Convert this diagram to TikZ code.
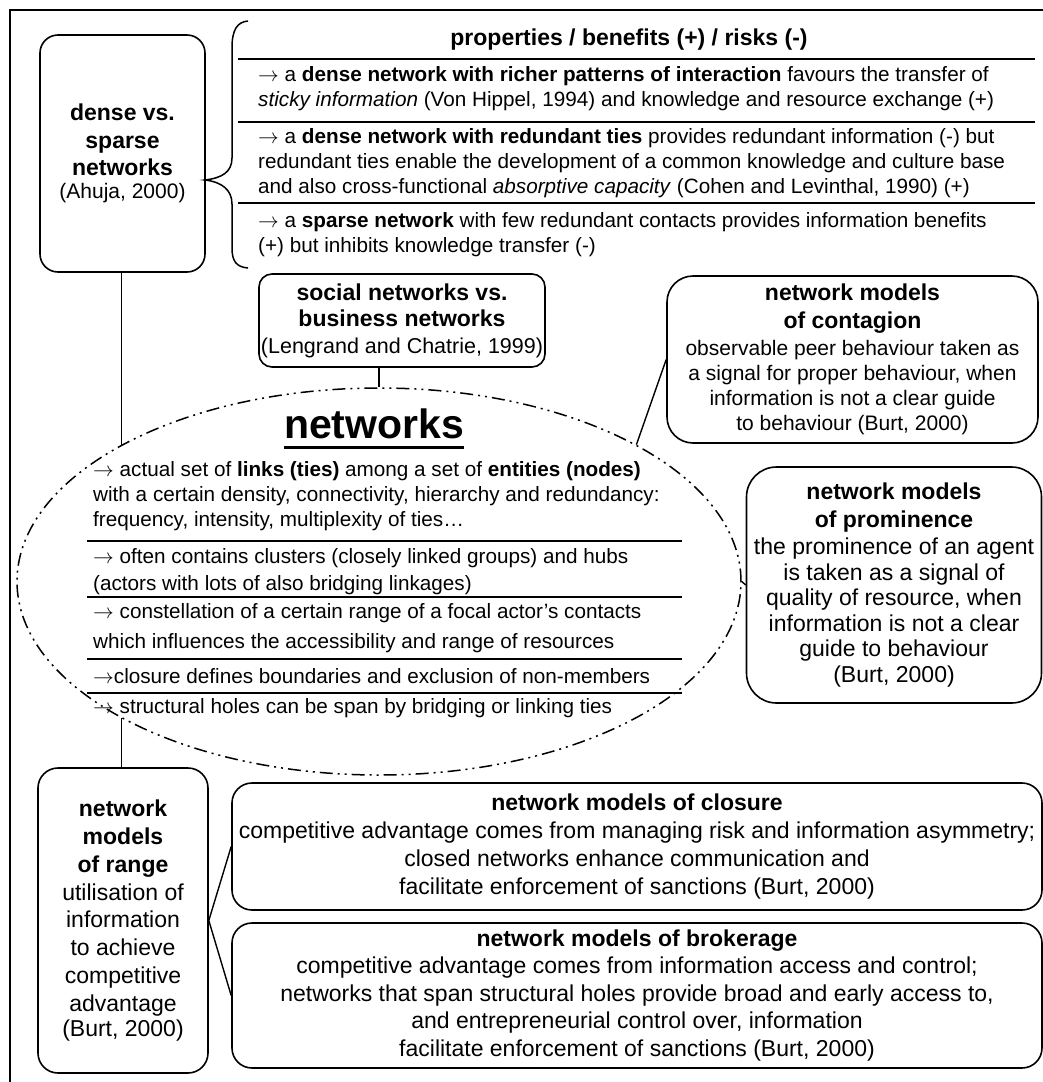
\documentclass[tikz,border=0pt]{standalone}
\usepackage{fontspec}
\setmainfont{Liberation Sans}
\usetikzlibrary{shapes.geometric}
\newcommand\bxhd[1]{{\fontsize{23}{27.5}\selectfont\bfseries #1}}
\newcommand\arr{\ensuremath{\rightarrow}}
\begin{document}
\begin{tikzpicture}[x=1pt,y=-1pt,
  rbox/.style={draw, line width=1.6pt, align=center, inner sep=0pt},
  conn/.style={line width=1.4pt},
  rulel/.style={line width=1.6pt},
  rowtxt/.style={anchor=west, align=left, inner sep=0pt},
]
\useasboundingbox (0,0) rectangle (1043,1082);
\draw[line width=1.6pt] (10,1082) -- (10,10) -- (1043,10);

% dense vs sparse
\node[rbox, rounded corners=18pt, minimum width=165pt, minimum height=237pt, font=\fontsize{21}{27.5}\selectfont] (dense) at (122.5,153.5)
  {\bxhd{dense vs.}\\\bxhd{sparse}\\\bxhd{networks}\\[-5pt](Ahuja, 2000)};

% brace
\draw[line width=1.5pt] (248,21) .. controls (237,22) and (232,30) .. (232,48) -- (232,158)
  .. controls (232,172) and (222,178) .. (205,180)
  .. controls (222,182) and (232,190) .. (232,204) -- (232,248)
  .. controls (232,262) and (237,267) .. (248,268);

% properties table
\node[inner sep=0pt, font=\fontsize{23}{27}\selectfont\bfseries] (hdr) at (629,40) {properties / benefits (+) / risks (-)};
\draw[rulel] (238,59) -- (1035,59);
\draw[rulel] (238,122) -- (1035,122);
\draw[rulel] (238,203) -- (1035,203);
\node[rowtxt, font=\fontsize{20.7}{25}\selectfont] (p1) at (258,89)
  {\arr{} a \textbf{dense network with richer patterns of interaction} favours the transfer of\\\textit{sticky information} (Von Hippel, 1994) and knowledge and resource exchange (+)};
\node[rowtxt, font=\fontsize{20.7}{25}\selectfont] (p2) at (258,163)
  {\arr{} a \textbf{dense network with redundant ties} provides redundant information (-) but\\redundant ties enable the development of a common knowledge and culture base\\and also cross-functional \textit{absorptive capacity} (Cohen and Levinthal, 1990) (+)};
\node[rowtxt, font=\fontsize{20.7}{25}\selectfont] (p3) at (258,234.5)
  {\arr{} a \textbf{sparse network} with few redundant contacts provides information benefits\\(+) but inhibits knowledge transfer (-)};

% social networks
\node[rbox, rounded corners=13pt, minimum width=286pt, minimum height=93pt, font=\fontsize{21.5}{26.5}\selectfont] (social) at (402,320.5)
  {\bxhd{social networks vs.}\\\bxhd{business networks}\\(Lengrand and Chatrie, 1999)};

% ellipse
\node[ellipse, draw, line width=1.5pt, dash pattern=on 13pt off 5pt on 2pt off 5pt on 2pt off 5pt,
  minimum width=724pt, minimum height=387pt, inner sep=0pt] (net) at (379,581.5) {};
\node[inner sep=0pt, anchor=base, font=\fontsize{41}{48}\selectfont\bfseries] (title) at (374,438) {networks};
\draw[line width=3pt] ([yshift=-9pt]title.base west) -- ([yshift=-9pt]title.base east);

\node[rowtxt, font=\fontsize{20.7}{25}\selectfont] (e1) at (93,495.7)
  {\arr{} actual set of \textbf{links (ties)} among a set of \textbf{entities (nodes)}\\with a certain density, connectivity, hierarchy and redundancy:\\frequency, intensity, multiplexity of ties…};
\draw[rulel] (87,541) -- (682,541);
\node[rowtxt, font=\fontsize{20.7}{27}\selectfont] (e2) at (93,571.5)
  {\arr{} often contains clusters (closely linked groups) and hubs\\(actors with lots of also bridging linkages)};
\draw[rulel] (87,597) -- (682,597);
\node[rowtxt, font=\fontsize{20.7}{30}\selectfont] (e3) at (93,628)
  {\arr{} constellation of a certain range of a focal actor’s contacts\\which influences the accessibility and range of resources};
\draw[rulel] (87,659) -- (682,659);
\node[rowtxt, font=\fontsize{20.7}{25}\selectfont] (e4) at (93,676)
  {\arr{}closure defines boundaries and exclusion of non-members};
\draw[rulel] (87,693) -- (682,693);
\node[rowtxt, font=\fontsize{20.7}{25}\selectfont] (e5) at (93,708)
  {\arr{} structural holes can be span by bridging or linking ties};

% contagion
\node[rbox, rounded corners=26pt, minimum width=371pt, minimum height=167pt, font=\fontsize{21}{25}\selectfont] (contagion) at (852.5,359.5)
  {\bxhd{network models}\\[3pt]\bxhd{of contagion}\\[2pt]observable peer behaviour taken as\\a signal for proper behaviour, when\\information is not a clear guide\\to behaviour (Burt, 2000)};

% prominence
\node[rbox, rounded corners=30pt, minimum width=295pt, minimum height=236pt, font=\fontsize{23}{25.5}\selectfont] (prom) at (894,585)
  {\bxhd{network models}\\[2pt]\bxhd{of prominence}\\[2pt]the prominence of an agent\\is taken as a signal of\\quality of resource, when\\information is not a clear\\guide to behaviour\\(Burt, 2000)};

% range
\node[rbox, rounded corners=20pt, minimum width=170pt, minimum height=305pt, font=\fontsize{23}{27.8}\selectfont] (range) at (123,920.5)
  {\bxhd{network}\\\bxhd{models}\\\bxhd{of range}\\utilisation of\\information\\to achieve\\competitive\\advantage\\[-3pt](Burt, 2000)};

% closure
\node[rbox, rounded corners=20pt, minimum width=810pt, minimum height=127pt, font=\fontsize{23}{27.8}\selectfont] (closure) at (637,846.5)
  {\bxhd{network models of closure}\\competitive advantage comes from managing risk and information asymmetry;\\closed networks enhance communication and\\facilitate enforcement of sanctions (Burt, 2000)};

% brokerage
\node[rbox, rounded corners=20pt, minimum width=810pt, minimum height=145pt, font=\fontsize{23}{27.5}\selectfont] (brokerage) at (637,995.5)
  {\bxhd{network models of brokerage}\\competitive advantage comes from information access and control;\\networks that span structural holes provide broad and early access to,\\and entrepreneurial control over, information\\facilitate enforcement of sanctions (Burt, 2000)};

% connectors
\draw[conn] (net.152) -- (net.152 |- dense.south);
\draw[conn] (net.north) -- (net.north |- social.south);
\draw[conn] (contagion.west) -- (net.28);
\draw[conn] (net.east) -- (prom.west);
\draw[conn] (net.208) -- (net.208 |- range.north);
\draw[conn] (range.east) -- (closure.west);
\draw[conn] (range.east) -- (brokerage.west);
\end{tikzpicture}
\end{document}
